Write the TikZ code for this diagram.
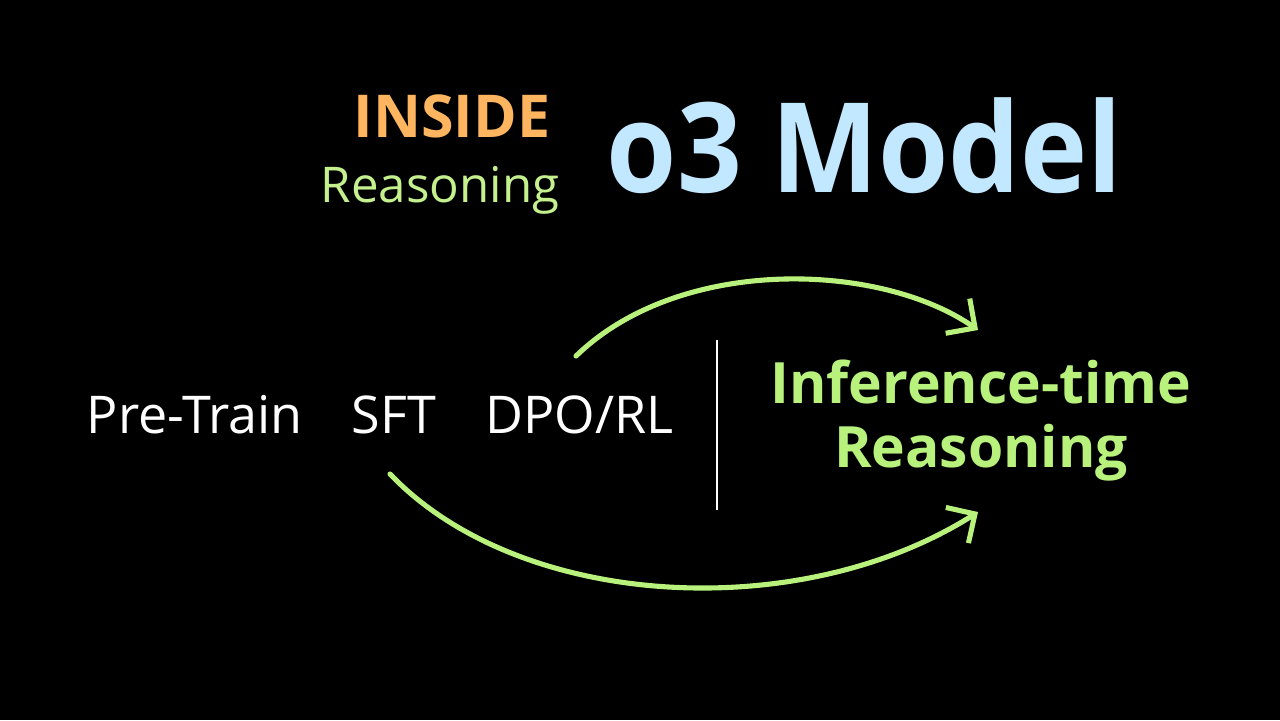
\documentclass[tikz,border=0pt]{standalone}
\usepackage{fontspec}
\setmainfont{Open Sans}
\newfontfamily\narrowBold{Open Sans}[FakeStretch=0.91]
\usetikzlibrary{arrows.meta}

\definecolor{insideOrange}{HTML}{FDB55F}
\definecolor{reasonGreen}{HTML}{C4F08E}
\definecolor{limeGreen}{HTML}{B8F27C}
\definecolor{titleBlue}{HTML}{C2E8FF}

\def \arrowWidth {1.45pt}

\tikzset{
  stage/.style={text=white, inner sep=0pt, anchor=base west,
    font=\fontsize{14.8}{17}\selectfont},
  result/.style={text=limeGreen, inner sep=0pt, anchor=base,
    font=\fontsize{16.2}{19}\selectfont\bfseries},
  flow/.style={draw=limeGreen, line width=\arrowWidth, line cap=round,
    -{Straight Barb[length=6pt,width=12pt,line width=\arrowWidth]}},
}

\begin{document}
\begin{tikzpicture}[x=0.01cm, y=-0.01cm]
  \fill[black] (0,0) rectangle (1280,720);
  \useasboundingbox (0,0) rectangle (1280,720);

  % title
  \node[text=insideOrange, inner sep=0pt, anchor=base east,
    font=\fontsize{16.8}{20}\selectfont\bfseries] (inside) at (551,137) {INSIDE};
  \node[text=reasonGreen, inner sep=0pt, anchor=base east,
    font=\fontsize{14}{16}\selectfont] (reasoning) at (560,202) {Reasoning};
  \node[text=titleBlue, inner sep=0pt, anchor=base west,
    font=\fontsize{35.5}{40}\narrowBold\bfseries] (model) at (606,192) {o3 Model};

  % training stages
  \node[stage] (pretrain) at (86,433) {Pre-Train};
  \node[stage] (sft) at (351,433) {SFT};
  \node[stage] (dpo) at (485,433) {DPO/RL};

  % divider
  \draw[white, line width=0.4pt] (717,340) -- (717,510);

  \node[result] (infA) at (981,403) {Inference-time};
  \node[result] (infB) at (981,467) {Reasoning};

  % arrows
  \coordinate (upStart) at (576,356);
  \coordinate (upEnd) at (978,330);
  \coordinate (lowStart) at (390,474);
  \coordinate (lowEnd) at (978,512);
  \draw[flow] (upStart) .. controls (680,255) and (880,262) .. (upEnd);
  \draw[flow] (lowStart) .. controls (520,610) and (800,625) .. (lowEnd);
\end{tikzpicture}
\end{document}
